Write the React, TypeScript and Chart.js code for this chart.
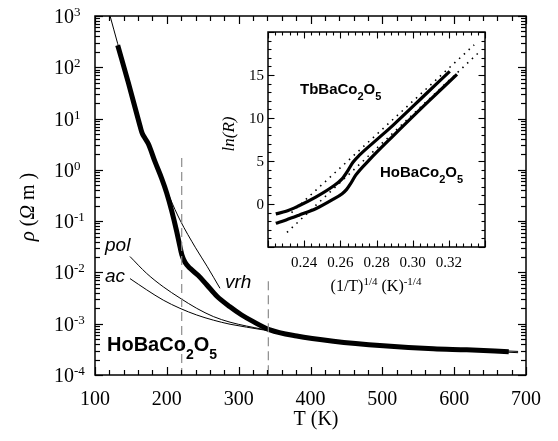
import React, { useEffect, useRef } from "react";
import { Chart, registerables } from "chart.js";
Chart.register(...registerables);

const W = 558;
const H = 441;

// ---------- Main panel data: T (K) and log10(rho / Ω m) ----------
const dataT = [131.6, 146.4, 162.6, 165.5, 169, 174.2, 183.5, 192.9, 199.8, 206.8, 213.7, 218.3, 221, 225.3, 232.3, 243.8, 255.5, 269.4, 287.9, 304.2, 320.4, 343.6, 380.8, 431.8, 501.4, 571, 617.5, 676];
const dataLogRho = [2.43, 1.7, 0.86, 0.72, 0.63, 0.51, 0.16, -0.17, -0.45, -0.8, -1.2, -1.5, -1.66, -1.8, -1.92, -2.06, -2.24, -2.46, -2.67, -2.83, -2.96, -3.12, -3.24, -3.34, -3.43, -3.49, -3.51, -3.545];

const vrhT = [121, 131.6, 146.4, 162.6, 183.5, 204.4, 218.4, 240, 256, 274];
const vrhLogRho = [3.0, 2.46, 1.73, 0.9, 0.2, -0.55, -0.98, -1.52, -1.88, -2.31];

const polT = [148.7, 172, 195, 218.3, 241.6, 264.7, 288, 334, 345, 380, 430, 500, 570, 620, 689];
const polLogRho = [-1.69, -2.02, -2.28, -2.5, -2.7, -2.86, -2.97, -3.11, -3.14, -3.23, -3.33, -3.42, -3.48, -3.5, -3.54];

const acT = [148.7, 172, 195, 218.3, 241.6, 264.7, 288, 334, 345, 380, 430, 500, 570, 620, 689];
const acLogRho = [-2.12, -2.34, -2.54, -2.7, -2.83, -2.93, -3.01, -3.12, -3.15, -3.245, -3.345, -3.44, -3.5, -3.52, -3.565];

const dashT = [220.7, 341.3];
const dashTopLogRho = [0.23, -2.17];

const xTickLabels = ["100", "200", "300", "400", "500", "600", "700"];
const yTickExps = [3, 2, 1, 0, -1, -2, -3, -4];

// ---------- Inset data: (1/T)^(1/4) and ln(R) ----------
const tbX = [0.2243, 0.23, 0.2371, 0.2464, 0.2556, 0.2611, 0.2645, 0.267, 0.2707, 0.28, 0.2891, 0.3076, 0.3205];
const tbY = [-1.15, -0.85, -0.2, 0.8, 2.0, 2.95, 4.0, 4.85, 5.7, 7.45, 9.15, 12.85, 15.43];

const hoX = [0.2243, 0.23, 0.2371, 0.2464, 0.2556, 0.261, 0.2635, 0.2655, 0.2685, 0.2759, 0.2891, 0.3076, 0.3245];
const hoY = [-2.25, -1.85, -1.3, -0.55, 0.5, 1.2, 1.7, 2.3, 3.35, 5.1, 7.9, 11.7, 15.08];

const tbFitX = [0.233, 0.334];
const tbFitY = [-1.0, 18.5];
const hoFitX = [0.2305, 0.3375];
const hoFitY = [-3.3, 17.8];

const insetXTicks = [0.24, 0.26, 0.28, 0.3, 0.32];
const insetXTickLabels = ["0.24", "0.26", "0.28", "0.30", "0.32"];
const insetYTicks = [0, 5, 10, 15];
const insetYTickLabels = ["0", "5", "10", "15"];

const SERIF = '"Liberation Serif", "Times New Roman", serif';
const SANS = '"Liberation Sans", Arial, sans-serif';

type Seg = { t: string; font: string; dy?: number };

function drawRich(ctx: CanvasRenderingContext2D, x: number, y: number, segs: Seg[], align = "left") {
  let total = 0;
  for (const s of segs) {
    ctx.font = s.font;
    total += ctx.measureText(s.t).width;
  }
  let cx = align === "center" ? x - total / 2 : align === "right" ? x - total : x;
  ctx.textAlign = "left";
  ctx.textBaseline = "alphabetic";
  for (const s of segs) {
    ctx.font = s.font;
    ctx.fillText(s.t, cx, y + (s.dy || 0));
    cx += ctx.measureText(s.t).width;
  }
}

function seg(ctx: CanvasRenderingContext2D, x1: number, y1: number, x2: number, y2: number) {
  ctx.beginPath();
  ctx.moveTo(x1, y1);
  ctx.lineTo(x2, y2);
  ctx.stroke();
}

function formula(name: string, sub1: string, o: string, sub2: string, size: number, sub: number, dy: number): Seg[] {
  return [
    { t: name, font: `bold ${size}px ${SANS}` },
    { t: sub1, font: `bold ${sub}px ${SANS}`, dy },
    { t: o, font: `bold ${size}px ${SANS}` },
    { t: sub2, font: `bold ${sub}px ${SANS}`, dy },
  ];
}

const mainDecor = {
  id: "mainDecor",
  afterDraw(chart: any) {
    const { ctx, chartArea: a } = chart;
    const x = chart.scales.x;
    const y = chart.scales.y;
    ctx.save();
    ctx.strokeStyle = "#000";
    ctx.fillStyle = "#000";
    ctx.lineWidth = 1.5;
    ctx.strokeRect(a.left, a.top, a.right - a.left, a.bottom - a.top);
    ctx.lineWidth = 1.2;
    for (let i = 0; i <= 30; i++) {
      const t = 100 + i * 20;
      const px = Math.round(x.getPixelForValue(t)) + 0.5;
      const L = i % 5 === 0 ? 8 : 5;
      seg(ctx, px, a.bottom, px, a.bottom - L);
      seg(ctx, px, a.top, px, a.top + L);
    }
    for (let e = -4; e <= 3; e++) {
      for (let m = 1; m <= 9; m++) {
        if (e === 3 && m > 1) break;
        const v = m * Math.pow(10, e);
        const py = Math.round(y.getPixelForValue(v)) + 0.5;
        const L = m === 1 ? 8 : 5;
        seg(ctx, a.left, py, a.left + L, py);
        seg(ctx, a.right, py, a.right - L, py);
      }
    }
    ctx.font = `20px ${SERIF}`;
    ctx.textAlign = "center";
    ctx.textBaseline = "alphabetic";
    xTickLabels.forEach((lab) => {
      ctx.fillText(lab, x.getPixelForValue(Number(lab)), 405);
    });
    yTickExps.forEach((e) => {
      const py = y.getPixelForValue(Math.pow(10, e));
      drawRich(ctx, 54, py + 7, [
        { t: "10", font: `20px ${SERIF}` },
        { t: e < 0 ? "-" + Math.abs(e) : String(e), font: `13px ${SERIF}`, dy: -7 },
      ]);
    });
    drawRich(ctx, 316, 425, [{ t: "T (K)", font: `20px ${SERIF}` }], "center");
    ctx.save();
    ctx.translate(34, 207);
    ctx.rotate(-Math.PI / 2);
    drawRich(ctx, 0, 0, [
      { t: "ρ", font: `italic 21px ${SERIF}` },
      { t: " (", font: `20px ${SERIF}` },
      { t: "Ω", font: `italic 20px ${SERIF}` },
      { t: " m )", font: `20px ${SERIF}` },
    ], "center");
    ctx.restore();
    drawRich(ctx, 105, 251, [{ t: "pol", font: `italic 19px ${SANS}` }]);
    drawRich(ctx, 105, 282, [{ t: "ac", font: `italic 19px ${SANS}` }]);
    drawRich(ctx, 225, 288, [{ t: "vrh", font: `italic 19px ${SANS}` }]);
    drawRich(ctx, 107, 351, formula("HoBaCo", "2", "O", "5", 20, 14, 8));
    ctx.restore();
  },
};

const insetDecor = {
  id: "insetDecor",
  afterDraw(chart: any) {
    const { ctx, chartArea: a } = chart;
    const x = chart.scales.x;
    const y = chart.scales.y;
    ctx.save();
    ctx.strokeStyle = "#000";
    ctx.fillStyle = "#000";
    ctx.lineWidth = 1.5;
    ctx.strokeRect(a.left, a.top, a.right - a.left, a.bottom - a.top);
    ctx.lineWidth = 1.1;
    for (let i = 0; i <= 30; i++) {
      const v = 0.22 + i * 0.004;
      const px = Math.round(x.getPixelForValue(v)) + 0.5;
      const L = i % 5 === 0 ? 6.5 : 3.5;
      seg(ctx, px, a.bottom, px, a.bottom - L);
      seg(ctx, px, a.top, px, a.top + L);
    }
    for (let v = -5; v <= 20; v++) {
      const py = Math.round(y.getPixelForValue(v)) + 0.5;
      const L = v % 5 === 0 ? 6.5 : 3.5;
      seg(ctx, a.left, py, a.left + L, py);
      seg(ctx, a.right, py, a.right - L, py);
    }
    ctx.font = `15px ${SERIF}`;
    ctx.textAlign = "center";
    ctx.textBaseline = "alphabetic";
    insetXTicks.forEach((v, i) => ctx.fillText(insetXTickLabels[i], x.getPixelForValue(v), 267));
    ctx.textAlign = "right";
    ctx.textBaseline = "middle";
    insetYTicks.forEach((v, i) => ctx.fillText(insetYTickLabels[i], 264, y.getPixelForValue(v) + 1));
    drawRich(ctx, 376, 291, [
      { t: "(1/T)", font: `16px ${SERIF}` },
      { t: "1/4", font: `11px ${SERIF}`, dy: -6 },
      { t: " (K)", font: `16px ${SERIF}` },
      { t: "-1/4", font: `11px ${SERIF}`, dy: -6 },
    ], "center");
    ctx.save();
    ctx.translate(234, 134);
    ctx.rotate(-Math.PI / 2);
    drawRich(ctx, 0, 0, [{ t: "ln(R)", font: `italic 17px ${SERIF}` }], "center");
    ctx.restore();
    drawRich(ctx, 300, 94, formula("TbBaCo", "2", "O", "5", 15, 11, 6));
    drawRich(ctx, 380, 177, formula("HoBaCo", "2", "O", "5", 15, 11, 6));
    ctx.restore();
  },
};

function logPts(xs: number[], ls: number[]) {
  return xs.map((v, i) => ({ x: v, y: Math.pow(10, ls[i]) }));
}
function pts(xs: number[], ys: number[]) {
  return xs.map((v, i) => ({ x: v, y: ys[i] }));
}

const line = (data: any[], width: number, extra: any = {}) => ({
  data,
  showLine: true,
  borderColor: "#000",
  backgroundColor: "#000",
  borderWidth: width,
  pointRadius: 0,
  cubicInterpolationMode: "monotone",
  borderJoinStyle: "round",
  ...extra,
});

export default function App() {
  const mainRef = useRef<HTMLCanvasElement>(null);
  const insetRef = useRef<HTMLCanvasElement>(null);

  useEffect(() => {
    const dashed = dashT.map((t, i) =>
      line(
        [
          { x: t, y: Math.pow(10, dashTopLogRho[i]) },
          { x: t, y: 1e-4 },
        ],
        1.2,
        { borderColor: "#8c8c8c", borderDash: [9, 5], cubicInterpolationMode: "default" }
      )
    );
    const main = new Chart(mainRef.current!, {
      type: "scatter",
      data: {
        datasets: [
          ...dashed,
          line(logPts(vrhT, vrhLogRho), 1),
          line(logPts(polT, polLogRho), 1),
          line(logPts(acT, acLogRho), 1),
          line(logPts(dataT, dataLogRho), 5),
        ] as any,
      },
      options: {
        responsive: false,
        animation: false,
        events: [],
        layout: { padding: { left: 95, right: 32, top: 16, bottom: 66 } },
        plugins: { legend: { display: false }, tooltip: { enabled: false } },
        scales: {
          x: { type: "linear", min: 100, max: 700, display: false },
          y: { type: "logarithmic", min: 1e-4, max: 1e3, display: false },
        },
      },
      plugins: [mainDecor],
    } as any);

    const inset = new Chart(insetRef.current!, {
      type: "scatter",
      data: {
        datasets: [
          line(pts(tbFitX, tbFitY), 1.6, { borderDash: [1.5, 5], cubicInterpolationMode: "default" }),
          line(pts(hoFitX, hoFitY), 1.6, { borderDash: [1.5, 5], cubicInterpolationMode: "default" }),
          line(pts(tbX, tbY), 3.2),
          line(pts(hoX, hoY), 3.2),
        ] as any,
      },
      options: {
        responsive: false,
        animation: false,
        events: [],
        layout: { padding: { left: 268, right: 73, top: 32, bottom: 194 } },
        plugins: { legend: { display: false }, tooltip: { enabled: false } },
        scales: {
          x: { type: "linear", min: 0.22, max: 0.34, display: false },
          y: { type: "linear", min: -5, max: 20, display: false },
        },
      },
      plugins: [insetDecor],
    } as any);

    return () => {
      main.destroy();
      inset.destroy();
    };
  }, []);

  return (
    <div style={{ position: "fixed", left: 0, top: 0, width: W, height: H, background: "#fff" }}>
      <canvas ref={mainRef} width={W} height={H} style={{ position: "absolute", left: 0, top: 0, width: W, height: H }} />
      <canvas ref={insetRef} width={W} height={H} style={{ position: "absolute", left: 0, top: 0, width: W, height: H }} />
    </div>
  );
}
